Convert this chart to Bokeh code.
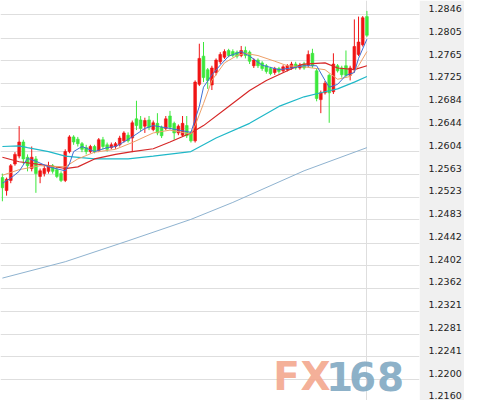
from bokeh.plotting import figure
from bokeh.models import (Range1d, LinearAxis, FixedTicker, Grid, Label,
                          PrintfTickFormatter, ColumnDataSource)
from bokeh.embed import file_html
from bokeh.resources import INLINE

# ---------------- data ----------------
opens = [1.2558, 1.2535, 1.2553, 1.2582, 1.2596, 1.2621, 1.2594, 1.2574, 1.2591, 1.2560,
         1.2565, 1.2569, 1.2579, 1.2572, 1.2565, 1.2553, 1.2604, 1.2630, 1.2626, 1.2618,
         1.2611, 1.2604, 1.2613, 1.2606, 1.2625, 1.2616, 1.2611, 1.2613, 1.2616, 1.2623,
         1.2633, 1.2628, 1.2662, 1.2660, 1.2649, 1.2660, 1.2643, 1.2654, 1.2647, 1.2645,
         1.2667, 1.2654, 1.2637, 1.2633, 1.2650, 1.2637, 1.2623, 1.2723, 1.2773, 1.2749,
         1.2722, 1.2744, 1.2763, 1.2771, 1.2783, 1.2781, 1.2780, 1.2774, 1.2783, 1.2780,
         1.2756, 1.2766, 1.2761, 1.2756, 1.2751, 1.2744, 1.2751, 1.2747, 1.2749, 1.2752,
         1.2759, 1.2752, 1.2759, 1.2757, 1.2778, 1.2747, 1.2696, 1.2708, 1.2739, 1.2710,
         1.2756, 1.2752, 1.2756, 1.2739, 1.2749, 1.2776, 1.2793, 1.2843]
closes = [1.2540, 1.2555, 1.2579, 1.2599, 1.2621, 1.2591, 1.2579, 1.2594, 1.2565, 1.2570,
          1.2574, 1.2579, 1.2569, 1.2560, 1.2553, 1.2604, 1.2630, 1.2621, 1.2618, 1.2608,
          1.2604, 1.2613, 1.2604, 1.2625, 1.2613, 1.2608, 1.2616, 1.2618, 1.2628, 1.2637,
          1.2623, 1.2655, 1.2650, 1.2645, 1.2659, 1.2647, 1.2655, 1.2637, 1.2632, 1.2662,
          1.2647, 1.2637, 1.2649, 1.2654, 1.2632, 1.2623, 1.2727, 1.2769, 1.2735, 1.2730,
          1.2752, 1.2766, 1.2776, 1.2781, 1.2774, 1.2774, 1.2773, 1.2783, 1.2774, 1.2764,
          1.2766, 1.2756, 1.2751, 1.2746, 1.2742, 1.2751, 1.2746, 1.2754, 1.2756, 1.2759,
          1.2752, 1.2757, 1.2752, 1.2776, 1.2756, 1.2698, 1.2708, 1.2725, 1.2708, 1.2759,
          1.2747, 1.2740, 1.2739, 1.2752, 1.2790, 1.2798, 1.2841, 1.2810]
highs = [1.2565, 1.2558, 1.2582, 1.2603, 1.2649, 1.2625, 1.2599, 1.2613, 1.2596, 1.2574,
         1.2579, 1.2586, 1.2582, 1.2577, 1.2569, 1.2608, 1.2633, 1.2633, 1.2630, 1.2621,
         1.2616, 1.2616, 1.2616, 1.2628, 1.2630, 1.2620, 1.2620, 1.2621, 1.2632, 1.2640,
         1.2638, 1.2659, 1.2694, 1.2667, 1.2664, 1.2667, 1.2659, 1.2672, 1.2650, 1.2667,
         1.2676, 1.2657, 1.2652, 1.2667, 1.2667, 1.2640, 1.2730, 1.2795, 1.2798, 1.2752,
         1.2756, 1.2769, 1.2780, 1.2785, 1.2786, 1.2785, 1.2783, 1.2791, 1.2790, 1.2783,
         1.2769, 1.2769, 1.2764, 1.2759, 1.2754, 1.2754, 1.2754, 1.2757, 1.2759, 1.2763,
         1.2763, 1.2761, 1.2763, 1.2783, 1.2786, 1.2751, 1.2712, 1.2729, 1.2742, 1.2778,
         1.2759, 1.2756, 1.2783, 1.2756, 1.2838, 1.2843, 1.2844, 1.2853]
lows = [1.2516, 1.2526, 1.2548, 1.2579, 1.2592, 1.2582, 1.2569, 1.2569, 1.2531, 1.2548,
        1.2560, 1.2565, 1.2565, 1.2557, 1.2550, 1.2550, 1.2601, 1.2616, 1.2613, 1.2603,
        1.2599, 1.2601, 1.2601, 1.2603, 1.2608, 1.2604, 1.2608, 1.2609, 1.2613, 1.2620,
        1.2620, 1.2603, 1.2642, 1.2640, 1.2637, 1.2642, 1.2640, 1.2633, 1.2628, 1.2642,
        1.2643, 1.2625, 1.2633, 1.2630, 1.2628, 1.2620, 1.2620, 1.2720, 1.2727, 1.2715,
        1.2713, 1.2739, 1.2759, 1.2768, 1.2771, 1.2771, 1.2769, 1.2771, 1.2769, 1.2759,
        1.2752, 1.2752, 1.2747, 1.2742, 1.2739, 1.2740, 1.2742, 1.2744, 1.2746, 1.2749,
        1.2749, 1.2749, 1.2749, 1.2754, 1.2752, 1.2693, 1.2672, 1.2705, 1.2655, 1.2706,
        1.2744, 1.2735, 1.2735, 1.2730, 1.2744, 1.2773, 1.2790, 1.2807]

# moving-average lines, sampled at candle indices
ma_blue_idx = [0, 2, 4, 6, 8, 11, 15, 16, 17, 19, 22, 25, 27, 29, 31, 34, 36, 40, 45, 47,
               48, 50, 52, 54, 57, 59, 62, 66, 69, 72, 75, 77, 78, 80, 82, 84, 85, 87]
ma_blue_val = [1.2548, 1.2557, 1.2569, 1.2592, 1.2587, 1.2577, 1.2570, 1.2582, 1.2604, 1.2613,
               1.2604, 1.2611, 1.2613, 1.2621, 1.2630, 1.2645, 1.2650, 1.2645, 1.2638, 1.2684,
               1.2718, 1.2740, 1.2757, 1.2773, 1.2781, 1.2773, 1.2757, 1.2749, 1.2752, 1.2756,
               1.2756, 1.2730, 1.2718, 1.2723, 1.2739, 1.2744, 1.2769, 1.2803]
ma_orange_idx = [0, 4, 9, 15, 18, 22, 27, 31, 36, 40, 45, 46, 48, 50, 53, 56, 58, 61, 65,
                 68, 72, 77, 80, 83, 85, 87]
ma_orange_val = [1.2562, 1.2572, 1.2579, 1.2577, 1.2591, 1.2603, 1.2608, 1.2620, 1.2637, 1.2642,
                 1.2635, 1.2650, 1.2689, 1.2730, 1.2761, 1.2774, 1.2778, 1.2774, 1.2764,
                 1.2756, 1.2754, 1.2749, 1.2732, 1.2737, 1.2756, 1.2781]
ma_red_idx = [0, 4, 11, 15, 18, 22, 27, 31, 36, 40, 45, 48, 54, 59, 63, 68, 71, 72, 77, 80, 84, 87]
ma_red_val = [1.2594, 1.2586, 1.2579, 1.2574, 1.2577, 1.2591, 1.2599, 1.2604, 1.2609, 1.2621,
              1.2637, 1.2650, 1.2684, 1.2712, 1.2730, 1.2747, 1.2757, 1.2759, 1.2761, 1.2752,
              1.2749, 1.2756]
ma_cyan_idx = [0, 4, 6, 11, 15, 22, 30, 36, 45, 51, 59, 66, 72, 77, 80, 84, 87]
ma_cyan_val = [1.2613, 1.2614, 1.2611, 1.2604, 1.2596, 1.2591, 1.2591, 1.2596, 1.2604, 1.2628,
               1.2654, 1.2684, 1.2701, 1.2710, 1.2715, 1.2727, 1.2737]
ma_long_idx = [0, 15, 30, 45, 55, 72, 87]
ma_long_val = [1.2380, 1.2409, 1.2446, 1.2484, 1.2514, 1.2570, 1.2611]

tick_vals = [1.2846, 1.2805, 1.2765, 1.2725, 1.2684, 1.2644, 1.2604, 1.2563, 1.2523,
             1.2483, 1.2442, 1.2402, 1.2362, 1.2321, 1.2281, 1.2241, 1.2200, 1.2160]
vgrid_at = [86.8]

# ---------------- figure ----------------
W, H = 464, 400
AXIS_W = 39
Y_LO, Y_HI = 1.21633, 1.28715
X_LO, X_HI = -0.45, 99.55

p = figure(width=W, height=H, output_backend="svg", toolbar_location=None,
           x_range=Range1d(X_LO, X_HI), y_range=Range1d(Y_LO, Y_HI),
           x_axis_location=None, y_axis_location=None,
           min_border_left=0, min_border_top=0, min_border_bottom=0,
           min_border_right=AXIS_W, border_fill_color="#f0f0f0",
           background_fill_color="white", outline_line_color=None)
# remove the default grids created by figure()
p.center = [c for c in p.center if not isinstance(c, Grid)]

# labels sit just above their grid lines
shift = 6.5 * (Y_HI - Y_LO) / H
p.extra_y_ranges = {"lbl": Range1d(Y_LO - shift, Y_HI - shift)}
ax = LinearAxis(y_range_name="lbl", ticker=FixedTicker(ticks=tick_vals),
                formatter=PrintfTickFormatter(format="%.4f"))
ax.axis_line_color = None
ax.major_tick_line_color = None
ax.minor_tick_line_color = None
ax.major_label_standoff = 3
ax.major_label_text_font = "DejaVu Sans"
ax.major_label_text_font_size = "9.5px"
ax.major_label_text_color = "#222222"
p.add_layout(ax, "right")

p.add_layout(Grid(dimension=1, ticker=FixedTicker(ticks=tick_vals),
                  grid_line_color="#dedede", grid_line_width=1))
p.add_layout(Grid(dimension=0, ticker=FixedTicker(ticks=vgrid_at),
                  grid_line_color="#dedede", grid_line_width=1))

# watermark
wm = [("F", 286, "#f3a88f"), ("X", 315, "#f3a88f"), ("1", 339, "#82aac3"),
      ("6", 362, "#82aac3"), ("8", 390, "#82aac3")]
for ch, xs, col in wm:
    p.add_layout(Label(x=xs, y=24, x_units="screen", y_units="screen", text=ch,
                       text_font="DejaVu Sans", text_font_style="bold",
                       text_font_size="39px", text_color=col, text_alpha=0.92,
                       text_align="center", text_baseline="middle"))

# candles
idx = list(range(len(opens)))
up_col, dn_col = "#f01414", "#3ce83c"
colors = [up_col if c >= o else dn_col for o, c in zip(opens, closes)]
src = ColumnDataSource(dict(
    x=idx, o=opens, c=closes, h=highs, l=lows,
    top=[max(o, c) for o, c in zip(opens, closes)],
    bot=[min(o, c) for o, c in zip(opens, closes)],
    col=colors))
p.segment(x0="x", y0="l", x1="x", y1="h", line_color="col", line_width=1, source=src)
p.vbar(x="x", width=0.66, top="top", bottom="bot", fill_color="col",
       line_color="col", line_width=0.6, source=src)

# moving averages
p.line(ma_long_idx, ma_long_val, line_color="#8fb3d0", line_width=1)
p.line(ma_cyan_idx, ma_cyan_val, line_color="#1fb8c8", line_width=1.2)
p.line(ma_red_idx, ma_red_val, line_color="#d62828", line_width=1.2)
p.line(ma_orange_idx, ma_orange_val, line_color="#eea068", line_width=1)
p.line(ma_blue_idx, ma_blue_val, line_color="#3d6fd6", line_width=1)

open("out.html", "w").write(file_html(p, INLINE))
